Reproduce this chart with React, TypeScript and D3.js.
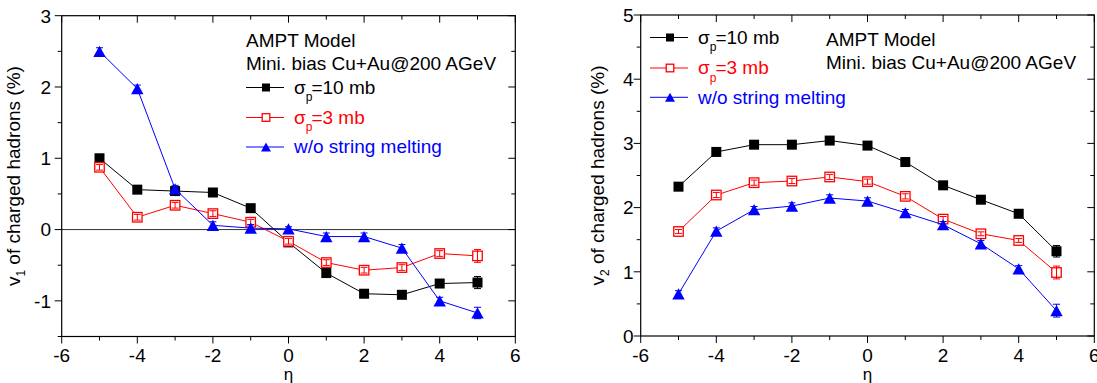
import React from 'react';
import * as d3 from 'd3';

// ---------- data ----------
const eta = [-5, -4, -3, -2, -1, 0, 1, 2, 3, 4, 5];

// v1 (%) panel
const v1Sigma10 = [1.0, 0.56, 0.54, 0.52, 0.3, -0.18, -0.61, -0.9, -0.915, -0.757, -0.743];
const v1Sigma10Err = [0.03, 0.03, 0.03, 0.03, 0.03, 0.03, 0.03, 0.03, 0.03, 0.04, 0.085];
const v1Sigma3 = [0.874, 0.173, 0.341, 0.224, 0.103, -0.164, -0.463, -0.57, -0.533, -0.336, -0.369];
const v1Sigma3Err = [0.04, 0.04, 0.04, 0.04, 0.04, 0.04, 0.04, 0.04, 0.04, 0.04, 0.09];
const v1NoSM = [2.5, 1.977, 0.57, 0.06, 0.02, 0.01, -0.098, -0.098, -0.26, -1.0, -1.17];
const v1NoSMErr = [0.05, 0.05, 0.05, 0.05, 0.05, 0.03, 0.05, 0.05, 0.05, 0.05, 0.08];

// v2 (%) panel
const v2Sigma10 = [2.326, 2.867, 2.98, 2.98, 3.044, 2.966, 2.71, 2.347, 2.123, 1.904, 1.32];
const v2Sigma10Err = [0.03, 0.03, 0.03, 0.03, 0.03, 0.03, 0.03, 0.03, 0.03, 0.03, 0.09];
const v2Sigma3 = [1.628, 2.196, 2.388, 2.414, 2.477, 2.404, 2.175, 1.821, 1.592, 1.488, 0.989];
const v2Sigma3Err = [0.03, 0.04, 0.04, 0.04, 0.04, 0.04, 0.04, 0.04, 0.03, 0.03, 0.1];
const v2NoSM = [0.656, 1.634, 1.967, 2.024, 2.149, 2.102, 1.92, 1.733, 1.436, 1.046, 0.395];
const v2NoSMErr = [0.05, 0.05, 0.05, 0.05, 0.05, 0.05, 0.05, 0.05, 0.05, 0.05, 0.1];

const xTickValues = [-6, -5, -4, -3, -2, -1, 0, 1, 2, 3, 4, 5, 6];
const xTickLabels = ['-6', '-4', '-2', '0', '2', '4', '6'];
const v1TickLabels = ['-1', '0', '1', '2', '3'];
const v2TickLabels = ['0', '1', '2', '3', '4', '5'];

const seriesNames = ['σp=10 mb', 'σp=3 mb', 'w/o string melting'];

const FONT = "'Liberation Sans', Arial, Helvetica, sans-serif";
const COLORS = ['#000000', '#ff0000', '#0000ff'];
const MARKERS = ['fsquare', 'osquare', 'triangle'];

type Series = { y: number[]; err: number[]; color: string; marker: string };

function Marker({ kind, x, y, color, size = 1 }: { kind: string; x: number; y: number; color: string; size?: number }) {
  if (kind === 'fsquare') {
    const s = 10 * size;
    return <rect x={x - s / 2} y={y - s / 2} width={s} height={s} fill={color} />;
  }
  if (kind === 'osquare') {
    const s = 9.5 * size;
    return <rect x={x - s / 2} y={y - s / 2} width={s} height={s} fill="#fff" stroke={color} strokeWidth={1.3} />;
  }
  const w = 6.2 * size;
  const h = 5.6 * size;
  return <path d={`M${x},${y - h}L${x + w},${y + h}L${x - w},${y + h}Z`} fill={color} />;
}

function Panel({
  x0, x1, y0, y1, yDomain, yTickLabels, series, zeroLine, yLabelX, yTitleX, sub,
}: {
  x0: number; x1: number; y0: number; y1: number; yDomain: [number, number];
  yTickLabels: string[]; series: Series[]; zeroLine: boolean; yLabelX: number; yTitleX: number; sub: string;
}) {
  const xs = d3.scaleLinear().domain([-6, 6]).range([x0, x1]);
  const ys = d3.scaleLinear().domain(yDomain).range([y1, y0]);
  const yMinor = d3.range(yDomain[0], yDomain[1] + 0.001, 0.5);
  const line = d3.line<number>().x((_, i) => xs(eta[i])).y((d) => ys(d));
  const MAJ = 7;
  const MIN = 4;
  const cy = (y0 + y1) / 2;
  return (
    <g>
      {zeroLine && <line x1={x0} x2={x1} y1={ys(0)} y2={ys(0)} stroke="#333" strokeWidth={1} />}
      {series.map((s, si) => (
        <g key={si}>
          <path d={line(s.y) || ''} fill="none" stroke={s.color} strokeWidth={1} />
          {s.y.map((v, i) => (
            <Marker key={i} kind={s.marker} x={xs(eta[i])} y={ys(v)} color={s.color} />
          ))}
          {s.y.map((v, i) => {
            const px = xs(eta[i]);
            const t = ys(v + s.err[i]);
            const b = ys(v - s.err[i]);
            return (
              <g key={'e' + i} stroke={s.color} strokeWidth={1}>
                <line x1={px} x2={px} y1={t} y2={b} />
                <line x1={px - 3.5} x2={px + 3.5} y1={t} y2={t} />
                <line x1={px - 3.5} x2={px + 3.5} y1={b} y2={b} />
              </g>
            );
          })}
        </g>
      ))}
      {/* frame */}
      <rect x={x0} y={y0} width={x1 - x0} height={y1 - y0} fill="none" stroke="#000" strokeWidth={1.2} />
      {/* x ticks */}
      {xTickValues.map((t) => {
        const major = t % 2 === 0;
        const L = major ? MAJ : MIN;
        const px = xs(t);
        return (
          <g key={'xt' + t} stroke="#000" strokeWidth={1}>
            <line x1={px} x2={px} y1={y1} y2={y1 + L} />
            <line x1={px} x2={px} y1={y0} y2={y0 + L} />
          </g>
        );
      })}
      {xTickValues.filter((t) => t % 2 === 0).map((t, i) => (
        <text key={'xl' + t} x={xs(t)} y={y1 + 25.5} textAnchor="middle" fontFamily={FONT} fontSize={19}>
          {xTickLabels[i]}
        </text>
      ))}
      {/* y ticks */}
      {yMinor.map((t) => {
        const major = Math.abs(t - Math.round(t)) < 1e-6;
        const L = major ? MAJ : MIN;
        const py = ys(t);
        return (
          <g key={'yt' + t} stroke="#000" strokeWidth={1}>
            <line x1={x0 - L} x2={x0} y1={py} y2={py} />
            <line x1={x1 - L} x2={x1} y1={py} y2={py} />
          </g>
        );
      })}
      {yTickLabels.map((lab) => (
        <text key={'yl' + lab} x={yLabelX} y={ys(+lab) + 6.8} textAnchor="end" fontFamily={FONT} fontSize={19}>
          {lab}
        </text>
      ))}
      {/* axis titles */}
      <text x={(x0 + x1) / 2} y={380} textAnchor="middle" fontFamily={FONT} fontSize={17}>η</text>
      <text transform={`translate(${yTitleX},${cy}) rotate(-90)`} textAnchor="middle" fontFamily={FONT} fontSize={19}>
        v<tspan fontSize={12} dy={5}>{sub}</tspan><tspan dy={-5}> of charged hadrons (%)</tspan>
      </text>
    </g>
  );
}

function LegendEntry({ x, y, idx, textX }: { x: number; y: number; idx: number; textX: number }) {
  const color = COLORS[idx];
  const name = seriesNames[idx];
  const sig = name.startsWith('σp');
  return (
    <g>
      <line x1={x} x2={x + 38} y1={y} y2={y} stroke={color} strokeWidth={1} />
      <Marker kind={MARKERS[idx]} x={x + 20} y={y} color={color} size={0.8} />
      <text x={textX} y={y + 6.3} fontFamily={FONT} fontSize={19} fill={color}>
        {sig ? (
          <>
            σ<tspan fontSize={12} dy={7.5}>p</tspan><tspan dy={-7.5} dx={-1}>{name.slice(2)}</tspan>
          </>
        ) : (
          name
        )}
      </text>
    </g>
  );
}

export default function App() {
  const leftSeries: Series[] = [
    { y: v1Sigma10, err: v1Sigma10Err, color: COLORS[0], marker: MARKERS[0] },
    { y: v1Sigma3, err: v1Sigma3Err, color: COLORS[1], marker: MARKERS[1] },
    { y: v1NoSM, err: v1NoSMErr, color: COLORS[2], marker: MARKERS[2] },
  ];
  const rightSeries: Series[] = [
    { y: v2Sigma10, err: v2Sigma10Err, color: COLORS[0], marker: MARKERS[0] },
    { y: v2Sigma3, err: v2Sigma3Err, color: COLORS[1], marker: MARKERS[1] },
    { y: v2NoSM, err: v2NoSMErr, color: COLORS[2], marker: MARKERS[2] },
  ];
  return (
    <svg width={1097} height={383} style={{ position: 'absolute', left: 0, top: 0, background: '#fff' }}>
      <rect width={1097} height={383} fill="#fff" />
      <Panel x0={61.7} x1={515.3} y0={15.7} y1={336.5} yDomain={[-1.5, 3]} yTickLabels={v1TickLabels}
        series={leftSeries} zeroLine={true} yLabelX={51} yTitleX={20} sub="1" />
      <Panel x0={640.7} x1={1094.3} y0={15} y1={336} yDomain={[0, 5]} yTickLabels={v2TickLabels}
        series={rightSeries} zeroLine={false} yLabelX={633.5} yTitleX={604} sub="2" />
      {/* left annotations */}
      <text x={246} y={46.5} fontFamily={FONT} fontSize={19}>AMPT Model</text>
      <text x={246} y={69.5} fontFamily={FONT} fontSize={19}>Mini. bias Cu+Au@200 AGeV</text>
      <LegendEntry x={246} y={87.5} idx={0} textX={294} />
      <LegendEntry x={246} y={117.5} idx={1} textX={294} />
      <LegendEntry x={246} y={147} idx={2} textX={294} />
      {/* right annotations */}
      <LegendEntry x={650} y={37.5} idx={0} textX={698} />
      <LegendEntry x={650} y={68} idx={1} textX={698} />
      <LegendEntry x={650} y={97.3} idx={2} textX={698} />
      <text x={826} y={46} fontFamily={FONT} fontSize={19}>AMPT Model</text>
      <text x={826} y={69.3} fontFamily={FONT} fontSize={19}>Mini. bias Cu+Au@200 AGeV</text>
    </svg>
  );
}
